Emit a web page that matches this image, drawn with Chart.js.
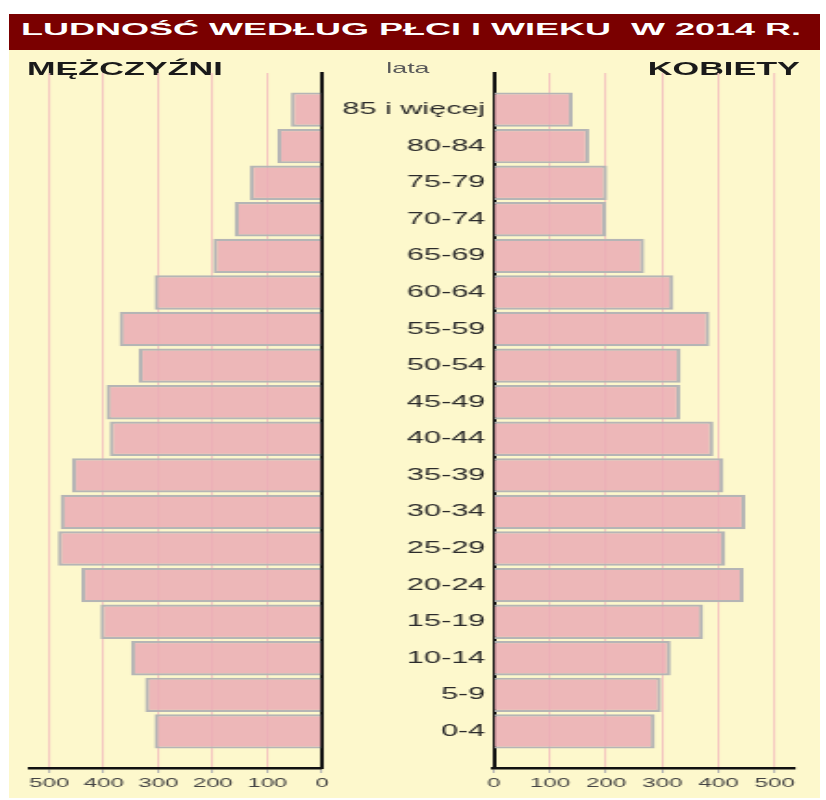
<!DOCTYPE html>
<html lang="pl">
<head>
  <meta charset="utf-8">
  <title>Ludność według płci i wieku w 2014 r.</title>
  <script src="https://cdn.jsdelivr.net/npm/chart.js"></script>
  <style>
    html, body { margin: 0; padding: 0; background: #fff; }
    body { width: 826px; height: 800px; position: relative; overflow: hidden;
           font-family: 'Liberation Sans', Arial, sans-serif; }
    #panel { position: absolute; left: 9px; top: 50px; width: 811px; height: 748px; background: #fdf8cc; }
    #title { position: absolute; left: 9px; top: 14px; width: 811px; height: 36px; background: #7a0000; overflow: hidden; }
    #title span { position: absolute; left: 12px; top: 5.5px; font-size: 16px; line-height: 20px; font-weight: bold;
                  color: #fff; white-space: pre; transform: scaleX(2.25); transform-origin: 0 0; }
    /* the whole reference is stretched sideways, so draw narrow and stretch */
    #stretch { position: absolute; left: 0; top: 0; width: 446.5px; height: 800px;
               transform: scaleX(1.85); transform-origin: 0 0; }
    .box { position: absolute; top: 0; height: 800px; }
    #leftBox { left: 0; width: 178px; }
    #rightBox { left: 180px; width: 266.5px; }
    .head { position: absolute; font-weight: bold; font-size: 18.5px; line-height: 22px; color: #1a1a1a; white-space: nowrap; }
    #men { left: 14.6px; top: 57.5px; }
    #women { right: 14.1px; top: 57.5px; }
    #lata { position: absolute; left: 180px; width: 81px; text-align: center; top: 60.3px;
            font-size: 14.5px; line-height: 16px; color: #5a5a5a; }
  </style>
</head>
<body>
  <div id="panel"></div>
  <div id="title"><span>LUDNOŚĆ WEDŁUG PŁCI I WIEKU  W 2014 R.</span></div>
  <div id="stretch">
    <div class="head" id="men">MĘŻCZYŹNI</div>
    <div class="head" id="women">KOBIETY</div>
    <div id="lata">lata</div>
    <div class="box" id="leftBox"><canvas id="menChart"></canvas></div>
    <div class="box" id="rightBox"><canvas id="womenChart"></canvas></div>
  </div>

  <script>
    const ageGroups = ['85 i więcej', '80-84', '75-79', '70-74', '65-69', '60-64', '55-59', '50-54', '45-49',
                       '40-44', '35-39', '30-34', '25-29', '20-24', '15-19', '10-14', '5-9', '0-4'];
    const men   = [57, 82, 132, 160, 199, 307, 371, 336, 395, 389, 458, 479, 484, 441, 406, 350, 324, 307];
    const women = [141, 170, 202, 200, 268, 320, 384, 333, 332, 391, 409, 448, 412, 445, 373, 315, 298, 287];
    const xTicks = [0, 100, 200, 300, 400, 500];

    // empty row above and below, like the gap in the original
    const rows = ['', ...ageGroups, ''];

    Chart.defaults.font.family = "'Liberation Sans', Arial, sans-serif";

    const barStyle = {
      backgroundColor: 'rgba(234,173,181,0.88)',
      borderColor: '#b5b5b5',
      borderWidth: 2.2,
      borderSkipped: 'start',
      categoryPercentage: 1,
      barPercentage: 0.94
    };

    function xScale(reverse, max) {
      return {
        type: 'linear', reverse, min: 0, max,
        afterBuildTicks: s => { s.ticks = xTicks.map(v => ({ value: v })); },
        afterFit: s => { s.height = 32; },
        grid: { color: '#f4c6c0', lineWidth: 1.1, drawTicks: true, tickLength: 5, tickColor: '#b4b4b4' },
        border: { color: '#111', width: 2.5 },
        ticks: { color: '#444', font: { size: 13 }, padding: 3, maxRotation: 0, autoSkip: false }
      };
    }

    function makeChart(id, values, left) {
      return new Chart(document.getElementById(id), {
        type: 'bar',
        data: { labels: rows, datasets: [{ data: [null, ...values, null], ...barStyle }] },
        options: {
          indexAxis: 'y',
          responsive: true,
          maintainAspectRatio: false,
          animation: false,
          layout: { padding: left ? { left: 16.2, right: 4, top: 73, bottom: 0 }
                                  : { left: 0, right: 18.4, top: 73, bottom: 0 } },
          plugins: { legend: { display: false }, tooltip: { enabled: false } },
          scales: {
            x: xScale(left, left ? 535 : 534),
            y: {
              type: 'category', offset: false,
              position: left ? 'right' : 'left',
              afterFit: s => { s.width = left ? 0 : 86.5; },
              grid: { drawOnChartArea: false, drawTicks: false },
              border: { color: '#111', width: 2 },
              ticks: { display: !left, color: '#2b2b2b', font: { size: 16.5 }, padding: 4.5, autoSkip: false }
            }
          }
        }
      });
    }

    makeChart('menChart', men, true);
    makeChart('womenChart', women, false);
  </script>
</body>
</html>
